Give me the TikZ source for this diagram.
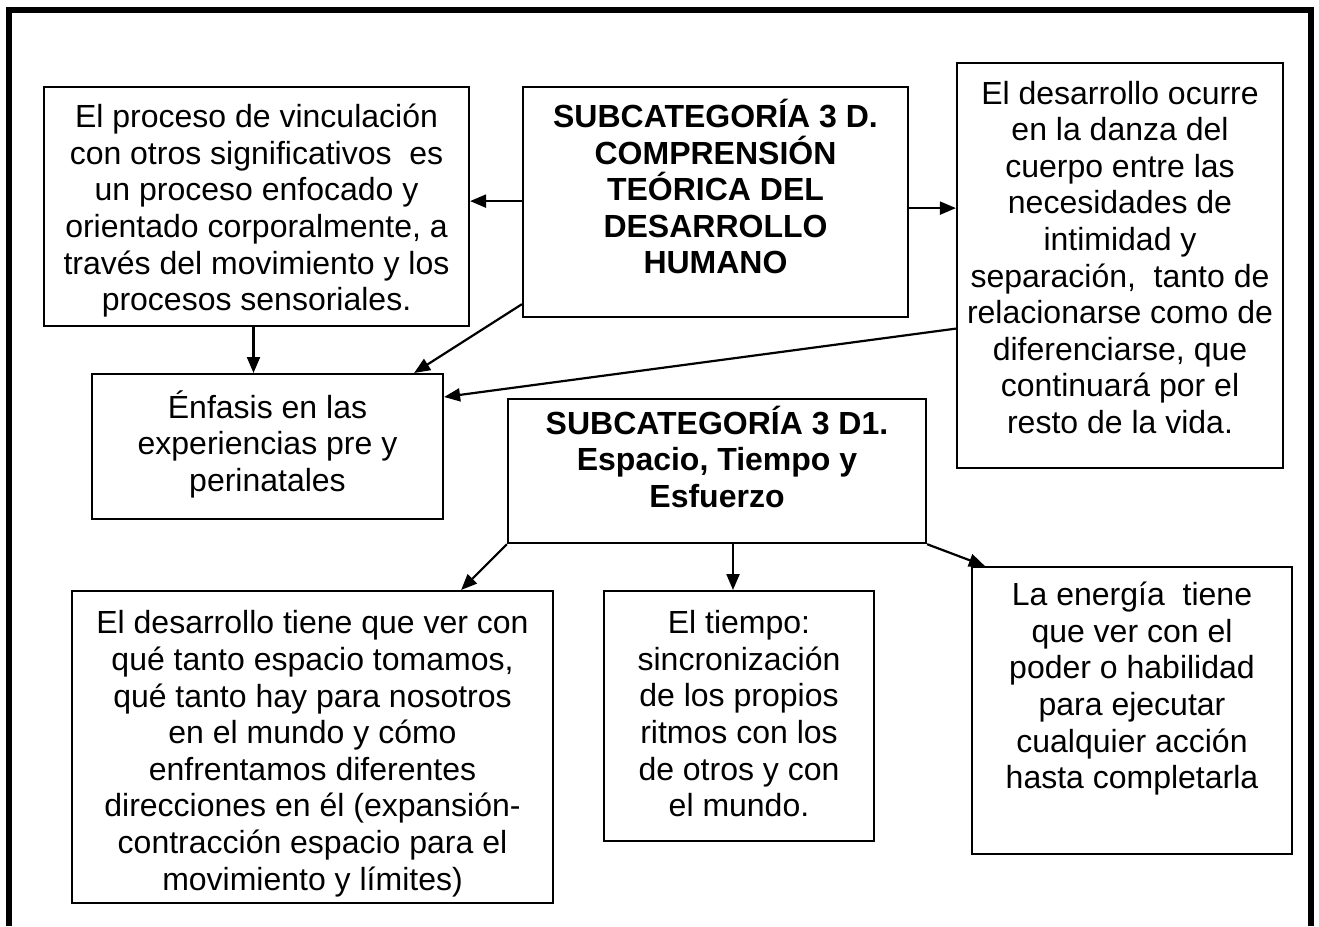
\documentclass[tikz,border=0pt]{standalone}
\usepackage{fontspec}
\setmainfont{Liberation Sans}
\usetikzlibrary{arrows.meta}

\begin{document}
\begin{tikzpicture}[x=1pt,y=-1pt,line width=2.2pt,>={Triangle[length=16pt,width=13pt]},
  caja/.style={draw,align=center,anchor=north,inner xsep=0pt,inner ysep=0pt,
    font=\fontsize{32}{36.6}\selectfont}]
\useasboundingbox (0,0) rectangle (1319,926);
\draw[line width=6pt] (9,926) -- (9,10) -- (1311,10) -- (1311,926);
% fila de arriba
\node[caja,minimum width=425pt,text height=223.5pt,text depth=15.5pt] (vinc) at (256.5,86)
  {El proceso de vinculación\\con otros significativos\ \ es\\un proceso enfocado y\\
   orientado corporalmente, a\\través del movimiento y los\\procesos sensoriales.};
\node[caja,font=\fontsize{32}{36.6}\selectfont\bfseries,minimum width=385pt,text height=186.8pt,text depth=43.2pt] (teoria) at (715.5,86)
  {SUBCATEGORÍA 3 D.\\COMPRENSIÓN\\TEÓRICA DEL\\DESARROLLO\\HUMANO};
\node[caja,minimum width=326pt,text height=370.3pt,text depth=34.7pt] (danza) at (1120,62)
  {El desarrollo ocurre\\en la danza del\\cuerpo entre las\\necesidades de\\intimidad y\\
   separación,\ \ tanto de\\relacionarse como de\\diferenciarse, que\\continuará por el\\resto de la vida.};
% fila del medio
\node[caja,minimum width=351pt,text height=117.4pt,text depth=27.6pt] (enfasis) at (267.5,373)
  {Énfasis en las\\experiencias pre y\\perinatales};
\node[caja,font=\fontsize{32}{36.6}\selectfont\bfseries,minimum width=418pt,text height=108.4pt,text depth=35.6pt] (espacio) at (717,398)
  {SUBCATEGORÍA 3 D1.\\Espacio, Tiempo y\\Esfuerzo};
% fila de abajo
\node[caja,minimum width=481pt,text height=298.9pt,text depth=13.1pt] (tomamos) at (312.5,590)
  {El desarrollo tiene que ver con\\qué tanto espacio tomamos,\\qué tanto hay para nosotros\\
   en el mundo y cómo\\enfrentamos diferentes\\direcciones en él (expansión-\\
   contracción espacio para el\\movimiento y límites)};
\node[caja,minimum width=270pt,text height=225.5pt,text depth=24.5pt] (tiempo) at (739,590)
  {El tiempo:\\sincronización\\de los propios\\ritmos con los\\de otros y con\\el mundo.};
\node[caja,minimum width=320pt,text height=221.5pt,text depth=65.5pt] (energia) at (1132,566)
  {La energía\ \ tiene\\que ver con el\\poder o habilidad\\para ejecutar\\cualquier acción\\hasta completarla};
% flechas
\draw[->] ([yshift=1pt]teoria.west) -- ([yshift=1pt]teoria.west -| vinc.east);
\draw[->] ([yshift=-6pt]teoria.east) -- ([yshift=-6pt]teoria.east -| danza.west);
\draw[->] ([xshift=-3pt]vinc.south) -- ([xshift=-3pt]vinc.south |- enfasis.north);
\draw[->] ([yshift=14pt]teoria.south west) -- ([xshift=-30pt]enfasis.north east);
\draw[->] ([yshift=-63pt]danza.west) -- ([yshift=-24pt]enfasis.north east);
\draw[->] (espacio.south west) -- ([xshift=-93pt]tomamos.north east);
\draw[->] ([xshift=-6pt]tiempo.north |- espacio.south) -- ([xshift=-6pt]tiempo.north);
\draw[->] (espacio.south east) -- ([xshift=14pt]energia.north west);
\end{tikzpicture}
\end{document}
